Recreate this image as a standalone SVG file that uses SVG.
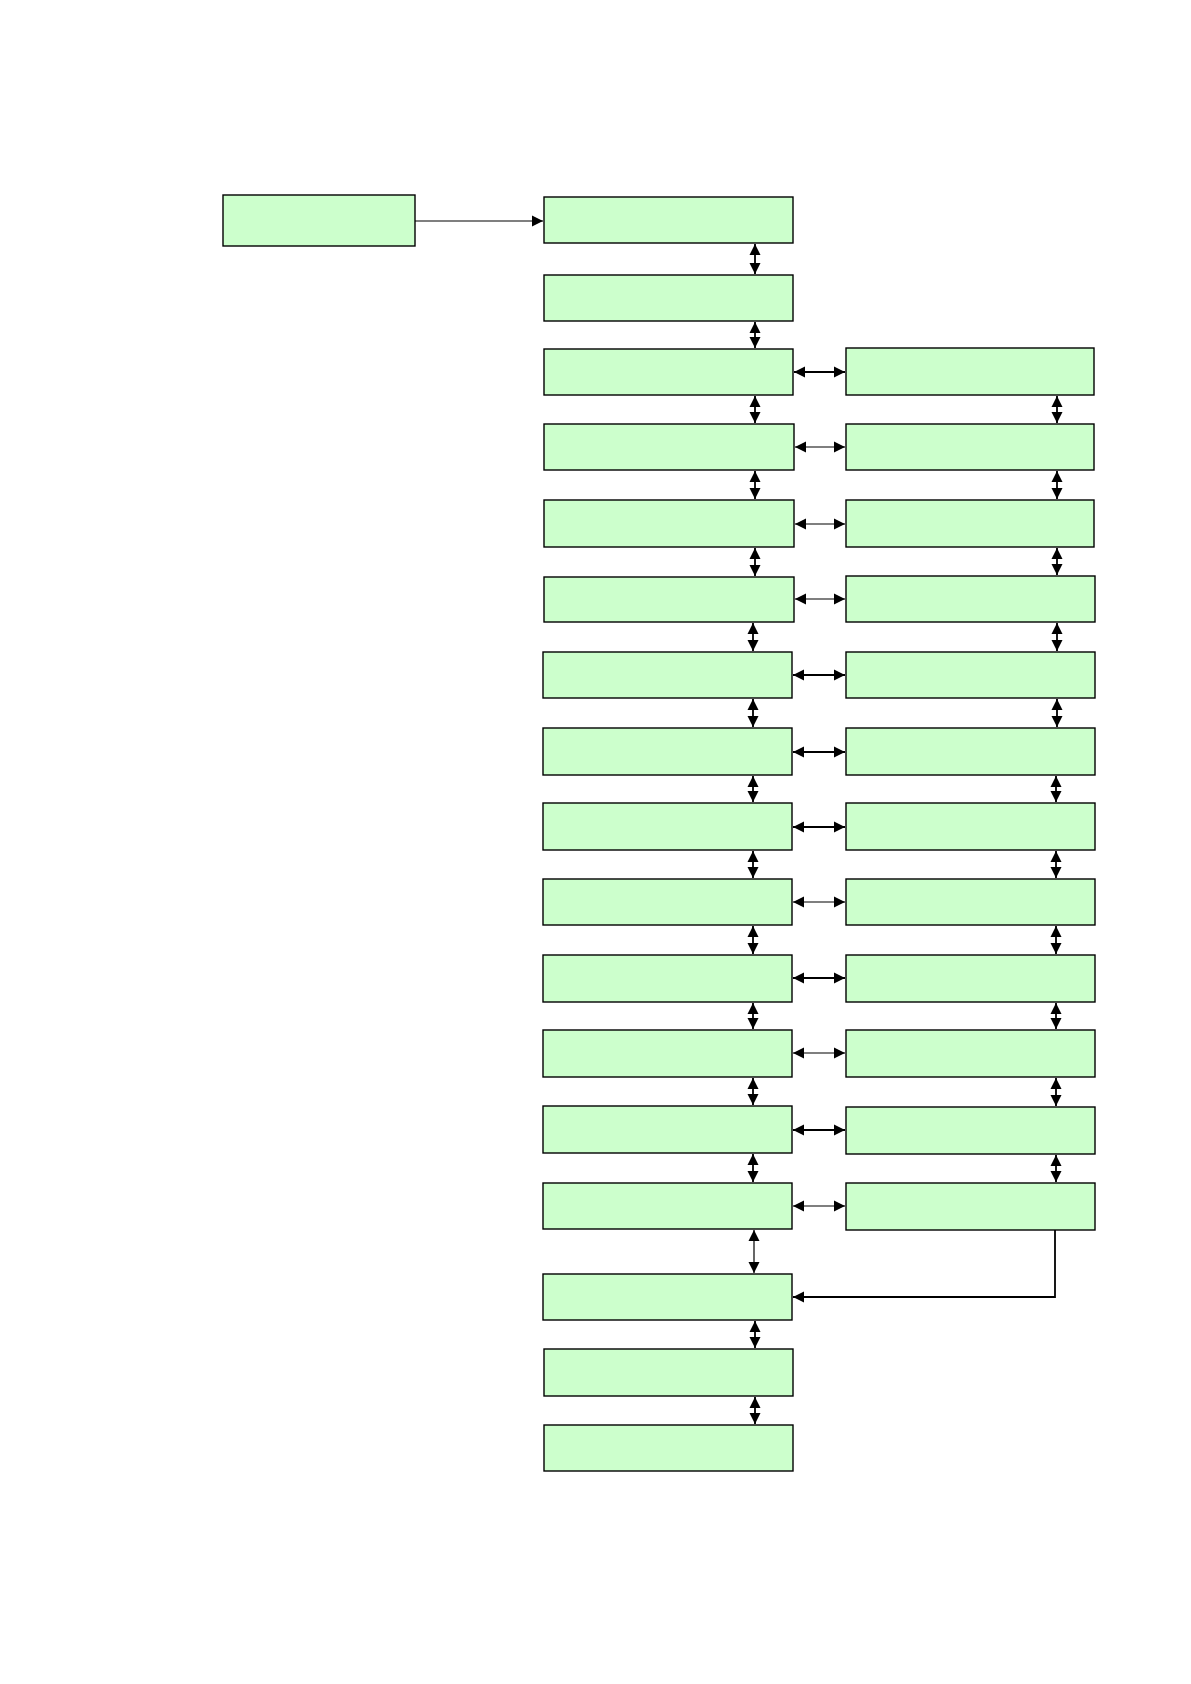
<svg xmlns="http://www.w3.org/2000/svg" width="1191" height="1684" viewBox="0 0 1191 1684">
<style>
.n{fill:#ccffcc;stroke:#000;stroke-width:1.4}
.c{fill:none;stroke:#000;stroke-width:1.8}
.t{stroke-width:1.2}
</style>
<defs>
<marker id="a" markerUnits="userSpaceOnUse" markerWidth="14" markerHeight="14" viewBox="0 0 14 14" refX="12" refY="7" orient="auto-start-reverse">
<path d="M1,1.5 L12,7 L1,12.5 Z" fill="#000"/>
</marker>
</defs>
<rect width="1191" height="1684" fill="#fff"/>
<g id="nodes">
<g id="n0"><rect class="n" x="223" y="195" width="192" height="51"/></g>
<g id="m1"><rect class="n" x="544" y="197" width="249" height="46"/></g>
<g id="m2"><rect class="n" x="544" y="275" width="249" height="46"/></g>
<g id="m3"><rect class="n" x="544" y="349" width="249" height="46"/></g>
<g id="m4"><rect class="n" x="544" y="424" width="250" height="46"/></g>
<g id="m5"><rect class="n" x="544" y="500" width="250" height="47"/></g>
<g id="m6"><rect class="n" x="544" y="577" width="250" height="45"/></g>
<g id="m7"><rect class="n" x="543" y="652" width="249" height="46"/></g>
<g id="m8"><rect class="n" x="543" y="728" width="249" height="47"/></g>
<g id="m9"><rect class="n" x="543" y="803" width="249" height="47"/></g>
<g id="m10"><rect class="n" x="543" y="879" width="249" height="46"/></g>
<g id="m11"><rect class="n" x="543" y="955" width="249" height="47"/></g>
<g id="m12"><rect class="n" x="543" y="1030" width="249" height="47"/></g>
<g id="m13"><rect class="n" x="543" y="1106" width="249" height="47"/></g>
<g id="m14"><rect class="n" x="543" y="1183" width="249" height="46"/></g>
<g id="m15"><rect class="n" x="543" y="1274" width="249" height="46"/></g>
<g id="m16"><rect class="n" x="544" y="1349" width="249" height="47"/></g>
<g id="m17"><rect class="n" x="544" y="1425" width="249" height="46"/></g>
<g id="r3"><rect class="n" x="846" y="348" width="248" height="47"/></g>
<g id="r4"><rect class="n" x="846" y="424" width="248" height="46"/></g>
<g id="r5"><rect class="n" x="846" y="500" width="248" height="47"/></g>
<g id="r6"><rect class="n" x="846" y="576" width="249" height="46"/></g>
<g id="r7"><rect class="n" x="846" y="652" width="249" height="46"/></g>
<g id="r8"><rect class="n" x="846" y="728" width="249" height="47"/></g>
<g id="r9"><rect class="n" x="846" y="803" width="249" height="47"/></g>
<g id="r10"><rect class="n" x="846" y="879" width="249" height="46"/></g>
<g id="r11"><rect class="n" x="846" y="955" width="249" height="47"/></g>
<g id="r12"><rect class="n" x="846" y="1030" width="249" height="47"/></g>
<g id="r13"><rect class="n" x="846" y="1107" width="249" height="47"/></g>
<g id="r14"><rect class="n" x="846" y="1183" width="249" height="47"/></g>
</g>
<g id="connectors">
<path class="c t" d="M415,221 H543" marker-end="url(#a)"/>
<path class="c" d="M755,244 V274" marker-start="url(#a)" marker-end="url(#a)"/>
<path class="c" d="M755,322 V348" marker-start="url(#a)" marker-end="url(#a)"/>
<path class="c" d="M755,396 V423" marker-start="url(#a)" marker-end="url(#a)"/>
<path class="c" d="M755,471 V499" marker-start="url(#a)" marker-end="url(#a)"/>
<path class="c" d="M755,548 V576" marker-start="url(#a)" marker-end="url(#a)"/>
<path class="c" d="M753,623 V651" marker-start="url(#a)" marker-end="url(#a)"/>
<path class="c" d="M753,699 V727" marker-start="url(#a)" marker-end="url(#a)"/>
<path class="c" d="M753,776 V802" marker-start="url(#a)" marker-end="url(#a)"/>
<path class="c" d="M753,851 V878" marker-start="url(#a)" marker-end="url(#a)"/>
<path class="c" d="M753,926 V954" marker-start="url(#a)" marker-end="url(#a)"/>
<path class="c" d="M753,1003 V1029" marker-start="url(#a)" marker-end="url(#a)"/>
<path class="c" d="M753,1078 V1105" marker-start="url(#a)" marker-end="url(#a)"/>
<path class="c" d="M753,1154 V1182" marker-start="url(#a)" marker-end="url(#a)"/>
<path class="c t" d="M754,1230 V1273" marker-start="url(#a)" marker-end="url(#a)"/>
<path class="c" d="M755,1321 V1348" marker-start="url(#a)" marker-end="url(#a)"/>
<path class="c" d="M755,1397 V1424" marker-start="url(#a)" marker-end="url(#a)"/>
<path class="c" d="M794,372 H845" marker-start="url(#a)" marker-end="url(#a)"/>
<path class="c t" d="M795,447 H845" marker-start="url(#a)" marker-end="url(#a)"/>
<path class="c t" d="M795,524 H845" marker-start="url(#a)" marker-end="url(#a)"/>
<path class="c t" d="M795,599 H845" marker-start="url(#a)" marker-end="url(#a)"/>
<path class="c" d="M793,675 H845" marker-start="url(#a)" marker-end="url(#a)"/>
<path class="c" d="M793,752 H845" marker-start="url(#a)" marker-end="url(#a)"/>
<path class="c" d="M793,827 H845" marker-start="url(#a)" marker-end="url(#a)"/>
<path class="c t" d="M793,902 H845" marker-start="url(#a)" marker-end="url(#a)"/>
<path class="c" d="M793,978 H845" marker-start="url(#a)" marker-end="url(#a)"/>
<path class="c t" d="M793,1053 H845" marker-start="url(#a)" marker-end="url(#a)"/>
<path class="c" d="M793,1130 H845" marker-start="url(#a)" marker-end="url(#a)"/>
<path class="c t" d="M793,1206 H845" marker-start="url(#a)" marker-end="url(#a)"/>
<path class="c" d="M1057,396 V423" marker-start="url(#a)" marker-end="url(#a)"/>
<path class="c" d="M1057,471 V499" marker-start="url(#a)" marker-end="url(#a)"/>
<path class="c" d="M1057,548 V575" marker-start="url(#a)" marker-end="url(#a)"/>
<path class="c" d="M1057,623 V651" marker-start="url(#a)" marker-end="url(#a)"/>
<path class="c" d="M1057,699 V727" marker-start="url(#a)" marker-end="url(#a)"/>
<path class="c" d="M1056,776 V802" marker-start="url(#a)" marker-end="url(#a)"/>
<path class="c" d="M1056,851 V878" marker-start="url(#a)" marker-end="url(#a)"/>
<path class="c" d="M1056,926 V954" marker-start="url(#a)" marker-end="url(#a)"/>
<path class="c" d="M1056,1003 V1029" marker-start="url(#a)" marker-end="url(#a)"/>
<path class="c" d="M1056,1078 V1106" marker-start="url(#a)" marker-end="url(#a)"/>
<path class="c" d="M1056,1155 V1182" marker-start="url(#a)" marker-end="url(#a)"/>
<path class="c" d="M1055,1230 V1297 H793" marker-end="url(#a)"/>
</g>
</svg>
